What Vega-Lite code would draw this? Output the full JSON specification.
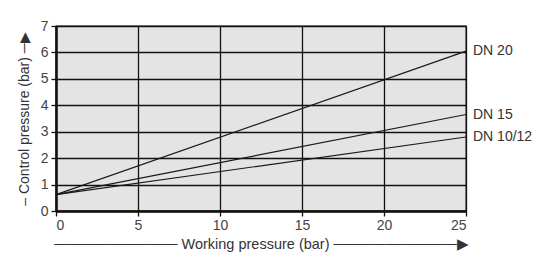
{
  "$schema": "https://vega.github.io/schema/vega-lite/v6.json",
  "width": 410,
  "height": 185,
  "autosize": {"type": "none"},
  "padding": {"left": 56, "top": 26, "right": 73, "bottom": 47},
  "background": "white",
  "config": {
    "font": "Liberation Sans",
    "view": {"fill": "#e4e4e4", "stroke": "#111111", "strokeWidth": 1.3}
  },
  "data": {
    "values": [
      {"series": "DN 20", "x": 0, "y": 0.62},
      {"series": "DN 20", "x": 25, "y": 6.05},
      {"series": "DN 15", "x": 0, "y": 0.62},
      {"series": "DN 15", "x": 25, "y": 3.65},
      {"series": "DN 10/12", "x": 0, "y": 0.62},
      {"series": "DN 10/12", "x": 25, "y": 2.8}
    ]
  },
  "encoding": {
    "x": {
      "field": "x", "type": "quantitative",
      "scale": {"domain": [0, 25], "nice": false},
      "axis": {
        "values": [0, 5, 10, 15, 20, 25],
        "grid": true, "gridColor": "#111111", "gridWidth": 1.3, "gridOpacity": 1,
        "domainColor": "#111111", "domainWidth": 2.5,
        "tickColor": "#111111", "tickSize": 5, "tickWidth": 1.3,
        "labelFontSize": 14, "labelColor": "#444444", "labelPadding": 2,
        "title": "────────────  Working pressure (bar) ────────────▶",
        "titleFontSize": 14.5, "titleFontWeight": "normal", "titleColor": "#333333",
        "titlePadding": 5
      }
    },
    "y": {
      "field": "y", "type": "quantitative",
      "scale": {"domain": [0, 7], "nice": false},
      "axis": {
        "values": [0, 1, 2, 3, 4, 5, 6, 7],
        "grid": true, "gridColor": "#111111", "gridWidth": 1.3, "gridOpacity": 1,
        "domainColor": "#111111", "domainWidth": 2.5,
        "tickColor": "#111111", "tickSize": 5, "tickWidth": 1.3,
        "labelFontSize": 14, "labelColor": "#444444", "labelPadding": 3,
        "title": "– Control pressure (bar) ─▶",
        "titleFontSize": 14, "titleFontWeight": "normal", "titleColor": "#333333",
        "titlePadding": 9
      }
    }
  },
  "layer": [
    {
      "mark": {"type": "line", "color": "#1a1a1a", "strokeWidth": 1.2},
      "encoding": {"detail": {"field": "series"}}
    },
    {
      "transform": [{"filter": "datum.x == 25"}],
      "mark": {"type": "text", "align": "left", "baseline": "middle", "dx": 7, "fontSize": 14, "color": "#333333"},
      "encoding": {"text": {"field": "series"}}
    }
  ]
}
